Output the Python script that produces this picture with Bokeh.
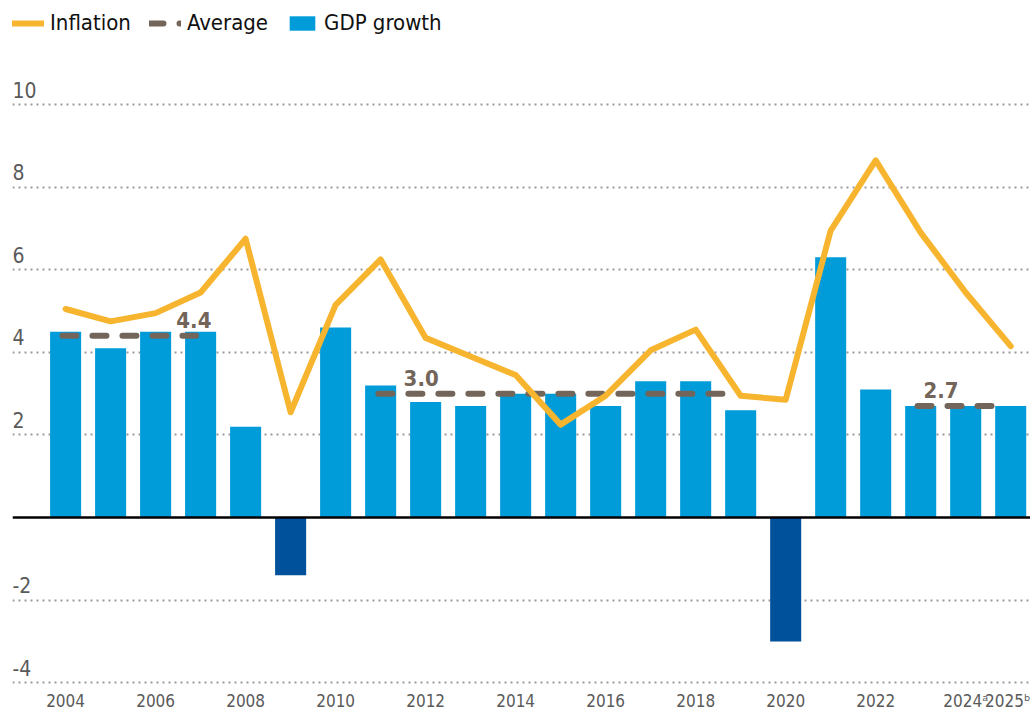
from bokeh.plotting import figure
from bokeh.models import ColumnDataSource, Range1d, Span, FixedTicker, Legend, LegendItem
from bokeh.core.properties import value
from bokeh.embed import file_html
from bokeh.resources import INLINE

years = list(range(2004, 2026))
gdp_growth = [4.5, 4.1, 4.5, 4.5, 2.2, -1.4, 4.6, 3.2, 2.8, 2.7, 3.0,
              3.0, 2.7, 3.3, 3.3, 2.6, -3.0, 6.3, 3.1, 2.7, 2.7, 2.7]
inflation = [5.05, 4.75, 4.95, 5.45, 6.75, 2.55, 5.15, 6.25, 4.35, 3.9, 3.45,
             2.25, 2.95, 4.05, 4.55, 2.95, 2.85, 6.95, 8.65, 6.9, 5.45, 4.15]
avg_start = [2003.93, 2010.95, 2022.93]
avg_end = [2006.9, 2018.65, 2024.65]
avg_value = [4.4, 3.0, 2.7]
avg_label = ["4.4", "3.0", "2.7"]
avg_label_x = [2006.85, 2011.9, 2023.45]
y_ticks = [-4, -2, 0, 2, 4, 6, 8, 10]
y_tick_labels = ["-4", "-2", "", "2", "4", "6", "8", "10"]
x_ticks = [2004, 2006, 2008, 2010, 2012, 2014, 2016, 2018, 2020, 2022, 2024, 2025]
x_tick_labels = ["2004", "2006", "2008", "2010", "2012", "2014", "2016", "2018",
                 "2020", "2022", "2024ᵃ", "2025ᵇ"]

FONT = "DejaVu Sans Condensed, Roboto"
BLUE = "#009CDA"
DARK = "#00519B"
ORANGE = "#F7B52F"
AVG = "#736559"
GREY = "#5A5A5A"

p = figure(frame_width=1018, frame_height=688, output_backend="svg", toolbar_location=None,
           x_range=Range1d(2002.82, 2025.44), y_range=Range1d(-4.14, 12.52),
           min_border_left=12, min_border_right=0, min_border_top=0, min_border_bottom=0)
p.outline_line_color = None
p.background_fill_color = "white"
p.border_fill_color = "white"

# grid
p.xgrid.grid_line_color = None
p.ygrid.ticker = FixedTicker(ticks=[t for t in y_ticks if t != 0])
p.ygrid.grid_line_color = "#9A9A9A"
p.ygrid.grid_line_width = 2
p.ygrid.grid_line_dash = "2 4"
p.yaxis.visible = False

# x axis
p.xaxis.ticker = FixedTicker(ticks=x_ticks)
p.xaxis.major_label_overrides = {t: l for t, l in zip(x_ticks, x_tick_labels)}
p.xaxis.axis_line_color = None
p.xaxis.major_tick_line_color = None
p.xaxis.minor_tick_line_color = None
p.xaxis.major_tick_out = 0
p.xaxis.major_tick_in = 0
p.xaxis.major_label_text_font = FONT
p.xaxis.major_label_text_font_size = "17px"
p.xaxis.major_label_text_color = GREY
p.xaxis.major_label_standoff = 2

# bars
bar_src = ColumnDataSource(dict(x=years, top=gdp_growth,
                                color=[BLUE if v >= 0 else DARK for v in gdp_growth]))
bars = p.vbar(x="x", top="top", bottom=0, width=0.69, fill_color="color",
              line_color=None, source=bar_src)

zero = Span(location=0, dimension="width", line_color="black", line_width=2.5)
p.add_layout(zero)

# averages
avg_renderers = []
for s, e, v in zip(avg_start, avg_end, avg_value):
    r = p.line([s, e], [v, v], line_color=AVG, line_width=6, line_dash="14 16",
               line_cap="round")
    avg_renderers.append(r)
p.text(x=avg_label_x, y=avg_value, text=avg_label, text_font=value(FONT),
       text_font_size="22px", text_font_style="bold", text_color=AVG,
       text_align="center", text_baseline="bottom", y_offset=-8)

# inflation line
infl = p.line(years, inflation, line_color=ORANGE, line_width=6, line_join="round",
              line_cap="round")

# y tick labels inside plot
p.text(x=[2002.82] * len(y_ticks), y=y_ticks, text=y_tick_labels, text_font=value(FONT),
       text_font_size="21px", text_color=GREY, text_align="left",
       text_baseline="bottom", y_offset=-7)

legend = Legend(items=[LegendItem(label="Inflation", renderers=[infl]),
                       LegendItem(label="Average", renderers=[avg_renderers[0]]),
                       LegendItem(label="GDP growth", renderers=[bars])],
                orientation="horizontal", location=(0, 653))
legend.label_text_font = FONT
legend.label_text_font_size = "22px"
legend.label_text_color = "#111111"
legend.glyph_width = 32
legend.glyph_height = 18
legend.spacing = 18
legend.margin = 0
legend.padding = 0
legend.label_standoff = 6
legend.border_line_color = None
legend.background_fill_alpha = 0
p.add_layout(legend)

open("out.html", "w").write(file_html(p, INLINE))
